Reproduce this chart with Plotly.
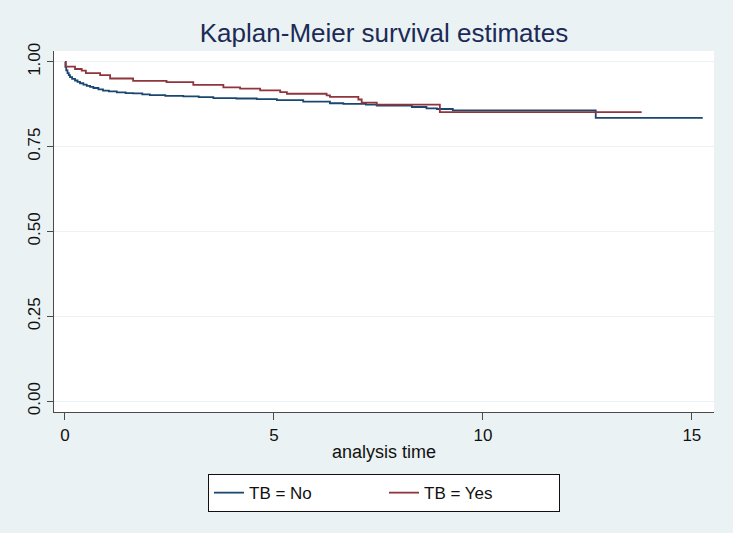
import plotly.graph_objects as go

# Kaplan-Meier step data
no_time = [0.0, 0.01, 0.03, 0.06, 0.09, 0.12, 0.17, 0.24, 0.30, 0.36, 0.44, 0.52, 0.60,
           0.68, 0.80, 0.91, 1.05, 1.24, 1.45, 1.63, 1.85, 2.03, 2.40, 2.83, 3.20, 3.55,
           4.10, 4.59, 5.07, 5.70, 6.34, 6.66, 7.20, 7.46, 8.30, 8.65, 8.90, 9.28, 12.70, 15.26]
no_surv = [1.0, 0.985, 0.975, 0.967, 0.961, 0.955, 0.950, 0.945, 0.941, 0.937, 0.933, 0.929, 0.926,
           0.923, 0.919, 0.915, 0.913, 0.910, 0.908, 0.907, 0.904, 0.902, 0.900, 0.898, 0.896, 0.893,
           0.892, 0.890, 0.887, 0.883, 0.878, 0.876, 0.874, 0.871, 0.867, 0.863, 0.861, 0.857, 0.835, 0.835]

yes_time = [0.0, 0.02, 0.24, 0.40, 0.50, 0.84, 1.08, 1.63, 2.43, 3.07, 3.79, 4.19, 4.67,
            5.15, 5.31, 6.26, 6.34, 7.02, 7.10, 7.46, 8.97, 13.80]
yes_surv = [1.0, 0.986, 0.979, 0.974, 0.967, 0.961, 0.951, 0.944, 0.940, 0.932, 0.925, 0.921, 0.916,
            0.911, 0.906, 0.901, 0.897, 0.889, 0.880, 0.874, 0.852, 0.852]

x_ticks = [0, 5, 10, 15]
y_ticks = [0.0, 0.25, 0.5, 0.75, 1.0]
y_tick_labels = ["0.00", "0.25", "0.50", "0.75", "1.00"]

FONT = "Liberation Sans, Arial, Helvetica, sans-serif"
BG = "#EAF2F3"
AXIS = "#4a4a4a"

fig = go.Figure()
fig.add_trace(go.Scatter(x=no_time, y=no_surv, mode="lines", name="TB = No",
                         line=dict(color="#1a476f", width=1.8, shape="hv")))
fig.add_trace(go.Scatter(x=yes_time, y=yes_surv, mode="lines", name="TB = Yes",
                         line=dict(color="#90353b", width=1.8, shape="hv")))

fig.update_layout(
    width=733, height=533,
    margin=dict(l=54, r=19, t=51, b=121),
    paper_bgcolor=BG, plot_bgcolor="white",
    font=dict(family=FONT, size=17, color="#111111"),
    title=dict(text="Kaplan-Meier survival estimates", x=0.5, xanchor="center",
               y=1 - 33 / 533, yanchor="middle", xref="paper",
               font=dict(family=FONT, size=26, color="#1c2a57")),
    showlegend=True,
    legend=dict(orientation="h", x=0.5, xanchor="center", y=-0.172, yanchor="top",
                bgcolor="white", bordercolor="#111111", borderwidth=1,
                font=dict(family=FONT, size=17, color="#111111"),
                entrywidth=130, itemwidth=30),
)

fig.update_xaxes(
    range=[-0.263, 15.53], tickvals=x_ticks, ticks="outside", ticklen=7,
    tickcolor=AXIS, showline=True, linecolor=AXIS, linewidth=1.3,
    showgrid=False, zeroline=False, mirror=False,
    tickfont=dict(family=FONT, size=17, color="#111111"),
    title=dict(text="analysis time", standoff=1,
               font=dict(family=FONT, size=18, color="#111111")),
)
fig.update_yaxes(
    range=[-0.032, 1.032], tickvals=y_ticks, ticktext=y_tick_labels, tickangle=-90,
    ticks="outside", ticklen=6, tickcolor=AXIS, showline=True, linecolor=AXIS,
    linewidth=1.3, showgrid=True, gridcolor=BG, gridwidth=1.2, zeroline=False,
    tickfont=dict(family=FONT, size=17, color="#111111"),
)

fig.write_html("out.html", config={"displayModeBar": False},
               post_script="document.body.style.margin='0';document.body.style.background='%s';" % BG)
